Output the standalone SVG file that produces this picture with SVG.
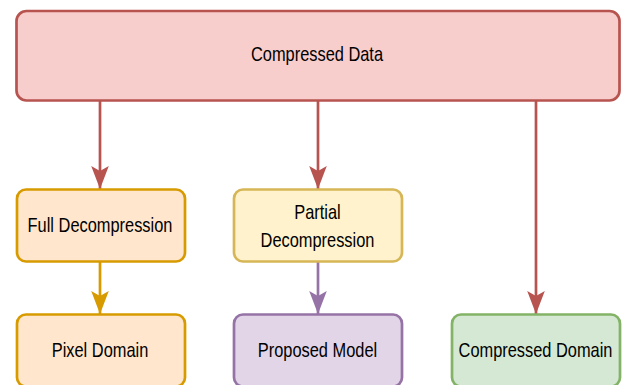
<svg xmlns="http://www.w3.org/2000/svg" width="625" height="385" viewBox="0 0 625 385">
  <style>
    .box { stroke-width: 2.7; }
    .red { fill: #f8cecc; stroke: #b85450; }
    .orange { fill: #ffe6cc; stroke: #d79b00; }
    .yellow { fill: #fff2cc; stroke: #d6b656; }
    .purple { fill: #e1d5e7; stroke: #9673a6; }
    .green { fill: #d5e8d4; stroke: #82b366; }
    .label { font-family: "Liberation Sans", Arial, sans-serif; font-size: 20.5px; fill: #000; text-anchor: middle; }
    .edge { fill: none; stroke-width: 2.7; }
  </style>
  <defs>
    <marker id="arr-red" markerUnits="userSpaceOnUse" viewBox="-1 -10 26 20" markerWidth="26" markerHeight="20" refX="23" refY="0" orient="auto" overflow="visible">
      <path d="M23 0 L0 -8.8 L5 0 L0 8.8 Z" fill="#b85450"/>
    </marker>
    <marker id="arr-orange" markerUnits="userSpaceOnUse" viewBox="-1 -10 26 20" markerWidth="26" markerHeight="20" refX="23" refY="0" orient="auto" overflow="visible">
      <path d="M23 0 L0 -8.8 L5 0 L0 8.8 Z" fill="#d79b00"/>
    </marker>
    <marker id="arr-purple" markerUnits="userSpaceOnUse" viewBox="-1 -10 26 20" markerWidth="26" markerHeight="20" refX="23" refY="0" orient="auto" overflow="visible">
      <path d="M23 0 L0 -8.8 L5 0 L0 8.8 Z" fill="#9673a6"/>
    </marker>
  </defs>

  <g id="connectors">
    <path class="edge" d="M100 101 V189" stroke="#b85450" marker-end="url(#arr-red)"/>
    <path class="edge" d="M318 101 V189" stroke="#b85450" marker-end="url(#arr-red)"/>
    <path class="edge" d="M536 101 V314" stroke="#b85450" marker-end="url(#arr-red)"/>
    <path class="edge" d="M100 262 V314" stroke="#d79b00" marker-end="url(#arr-orange)"/>
    <path class="edge" d="M318 262 V314" stroke="#9673a6" marker-end="url(#arr-purple)"/>
  </g>

  <!-- labels use a narrowed Arial-metric face: scale(0.8, 1) about the label centre -->
  <g id="compressed-data">
    <rect class="box red" x="16.5" y="11" width="603" height="89.5" rx="10"/>
    <text class="label" transform="matrix(0.8 0 0 1 317 0)" x="0" y="60.7">Compressed Data</text>
  </g>

  <g id="full-decompression">
    <rect class="box orange" x="17" y="189.5" width="168" height="72" rx="9"/>
    <text class="label" transform="matrix(0.8 0 0 1 100 0)" x="0" y="232.3">Full Decompression</text>
  </g>

  <g id="partial-decompression">
    <rect class="box yellow" x="234" y="189.5" width="168" height="72" rx="9"/>
    <text class="label" transform="matrix(0.8 0 0 1 317.5 0)" x="0" y="219.3">Partial</text>
    <text class="label" transform="matrix(0.8 0 0 1 317.5 0)" x="0" y="246.7">Decompression</text>
  </g>

  <g id="pixel-domain">
    <rect class="box orange" x="17" y="314.5" width="168" height="72" rx="9"/>
    <text class="label" transform="matrix(0.8 0 0 1 100 0)" x="0" y="356.7">Pixel Domain</text>
  </g>

  <g id="proposed-model">
    <rect class="box purple" x="234" y="314.5" width="168" height="72" rx="9"/>
    <text class="label" transform="matrix(0.8 0 0 1 317.5 0)" x="0" y="356.7">Proposed Model</text>
  </g>

  <g id="compressed-domain">
    <rect class="box green" x="452" y="314.5" width="168" height="72" rx="9"/>
    <text class="label" transform="matrix(0.8 0 0 1 535.5 0)" x="0" y="356.7">Compressed Domain</text>
  </g>
</svg>
